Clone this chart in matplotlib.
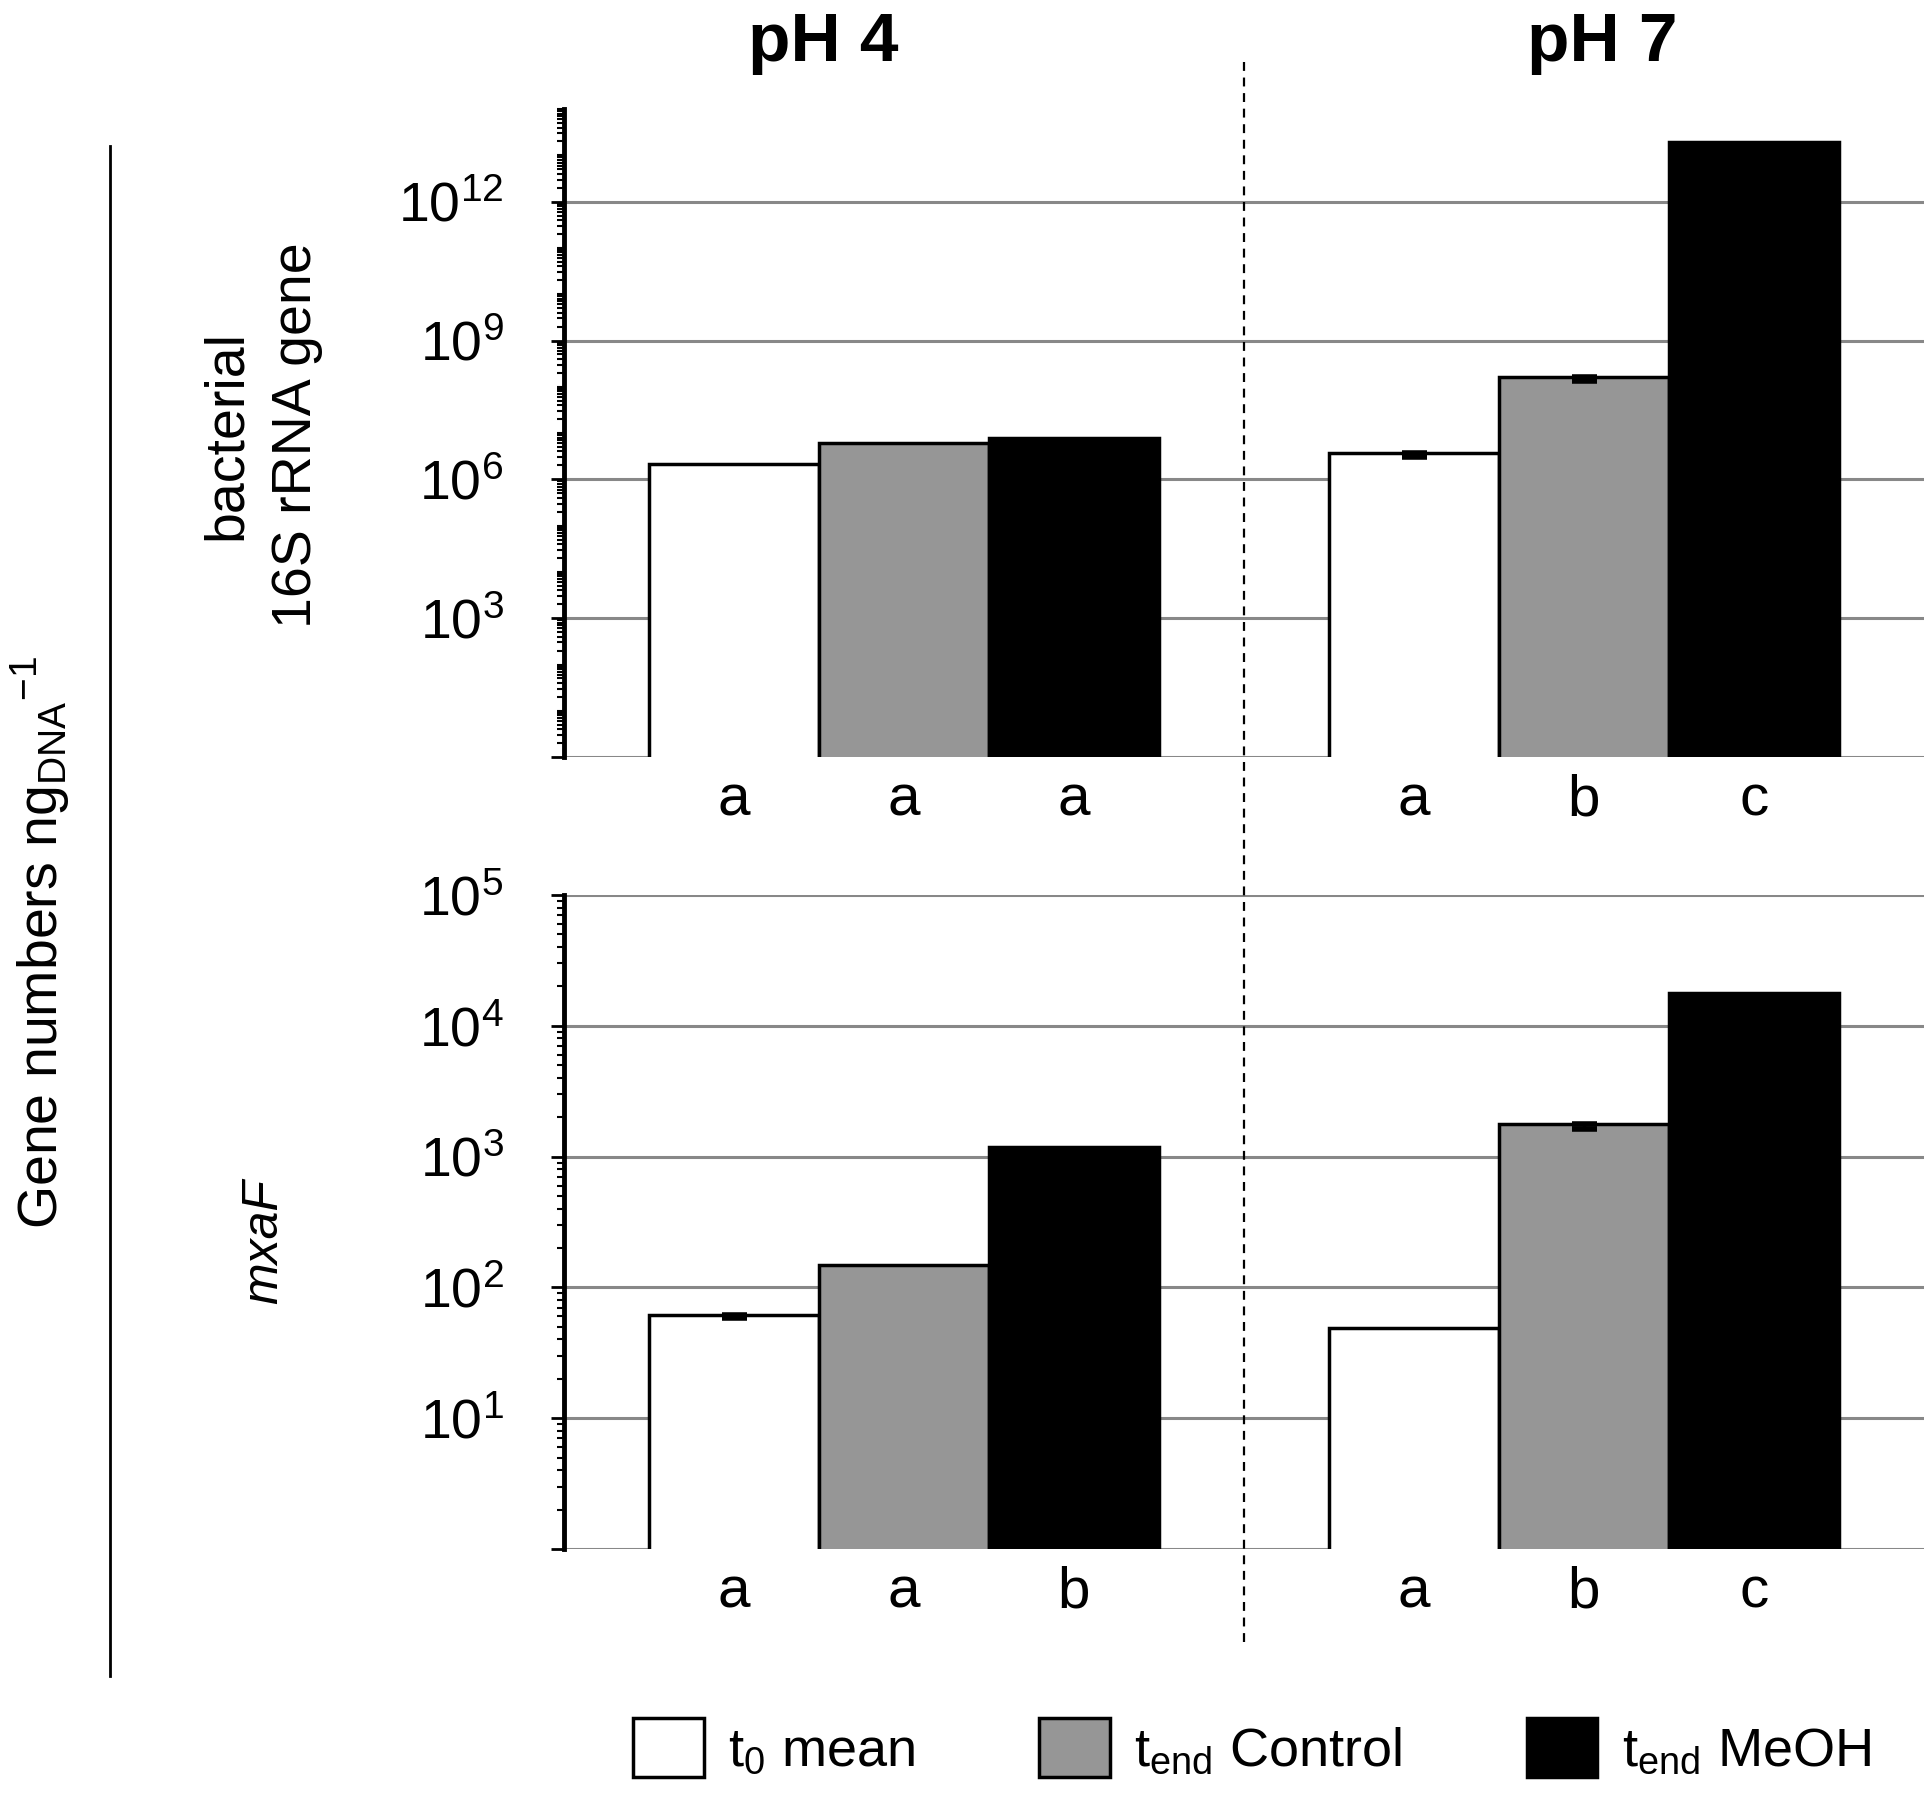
import matplotlib
matplotlib.use('Agg')
import numpy as np
import matplotlib.pyplot as plt
from matplotlib.lines import Line2D
from matplotlib.ticker import FixedLocator, LogLocator, FuncFormatter, NullFormatter

plt.rcParams['font.family'] = ['Liberation Sans', 'DejaVu Sans']
plt.rcParams['mathtext.default'] = 'regular'

# ==== DATA ====
groups = ['pH 4', 'pH 7']
series = ['t$_{0}$ mean', 't$_{end}$ Control', 't$_{end}$ MeOH']
colors = ['white', '#969696', 'black']

# bacterial 16S rRNA gene, per series: [pH4, pH7]
rrna = [[2.1e6, 3.8e6],
        [6.0e6, 1.65e8],
        [7.8e6, 1.9e13]]
rrna_err = [[0, 0.8e6],
            [0, 3.4e7],
            [0, 0]]
rrna_letters = [['a', 'a'], ['a', 'b'], ['a', 'c']]

# mxaF
mxaf = [[62, 49],
        [149, 1770],
        [1180, 17800]]
mxaf_err = [[4, 0],
            [0, 145],
            [0, 0]]
mxaf_letters = [['a', 'a'], ['a', 'b'], ['b', 'c']]

# ==== PLOT ====
fig = plt.figure(figsize=(19.33, 18.03), dpi=100)
ax_top = fig.add_axes([0.2918, 0.5801, 0.7035, 0.3594])
ax_bot = fig.add_axes([0.2918, 0.1409, 0.7035, 0.3627])

x = np.arange(len(groups))
width = 0.25
offsets = [-width, 0, width]


def draw_panel(ax, vals, errs, letters, ylim, major):
    ax.set_yscale('log')
    handles = []
    for i in range(len(series)):
        b = ax.bar(x + offsets[i], vals[i], width=width, color=colors[i],
                   edgecolor='black', linewidth=2.5, zorder=3, label=series[i])
        handles.append(b)
        # only the lower error is visible in the original
        lower = np.array(errs[i], dtype=float)
        keep = lower > 0
        if keep.any():
            ax.errorbar((x + offsets[i])[keep], np.array(vals[i])[keep],
                        yerr=[lower[keep], np.zeros(keep.sum())],
                        fmt='none', ecolor='black', elinewidth=2.5, capsize=9,
                        capthick=4, zorder=4)
    ax.set_xlim(-0.5, 1.5)
    ax.set_ylim(*ylim)

    ax.yaxis.set_major_locator(FixedLocator(major))
    ax.yaxis.set_major_formatter(FuncFormatter(
        lambda v, p: '' if v <= 1 else r'$10^{%d}$' % round(np.log10(v))))
    ax.yaxis.set_minor_locator(LogLocator(base=10, subs=np.arange(1, 10), numticks=200))
    ax.yaxis.set_minor_formatter(NullFormatter())
    ax.tick_params(axis='y', which='major', length=9.5, width=2, direction='out',
                   labelsize=40, pad=34)
    ax.tick_params(axis='y', which='minor', length=5, width=1.5, direction='out')

    ticks = []
    labels = []
    for g in range(len(groups)):
        for i in range(len(series)):
            ticks.append(x[g] + offsets[i])
            labels.append(letters[i][g])
    ax.set_xticks(ticks)
    ax.set_xticklabels(labels)
    ax.tick_params(axis='x', length=0, labelsize=42, pad=12)

    ax.yaxis.grid(True, which='major', color='#888888', linewidth=2.2)
    ax.set_axisbelow(True)
    for s in ['top', 'right', 'bottom']:
        ax.spines[s].set_visible(False)
    ax.spines['left'].set_linewidth(3.5)
    return handles


handles = draw_panel(ax_top, rrna, rrna_err, rrna_letters, (1, 1e14),
                     [1, 1e3, 1e6, 1e9, 1e12])
draw_panel(ax_bot, mxaf, mxaf_err, mxaf_letters, (1, 1e5),
           [1, 1e1, 1e2, 1e3, 1e4, 1e5])

# pH titles
fig.text(0.4258, 0.976, groups[0], ha='center', va='center', fontsize=50,
         fontweight='bold')
fig.text(0.829, 0.976, groups[1], ha='center', va='center', fontsize=50,
         fontweight='bold')

# dashed separator between pH 4 and pH 7, at x = 0.5 in data units
xs = fig.transFigure.inverted().transform(ax_top.transData.transform((0.5, 1)))[0]
fig.add_artist(Line2D([xs, xs], [0.0893, 0.967], transform=fig.transFigure,
                      color='black', linewidth=1.6, linestyle=(0, (4, 3))))

# left label and bar
fig.add_artist(Line2D([0.0569, 0.0569], [0.0704, 0.919], transform=fig.transFigure,
                      color='black', linewidth=2))
fig.text(0.0207, 0.4775, r'Gene numbers ng$_{\mathregular{DNA}}$$^{\mathregular{-1}}$',
         rotation=90, ha='center', va='center', fontsize=40)
fig.text(0.1355, 0.7587, 'bacterial\n16S rRNA gene', rotation=90, ha='center',
         va='center', fontsize=40, linespacing=1.45)
fig.text(0.1366, 0.3115, 'mxaF', rotation=90, ha='center', va='center',
         fontsize=36, style='italic')

fig.legend(handles=handles, labels=series, loc='center', ncol=3,
           bbox_to_anchor=(0.6477, 0.031), frameon=False, fontsize=39,
           handlelength=1.3, handleheight=1.3, handletextpad=0.45,
           columnspacing=2.3)

fig.savefig('out.png', dpi=100)
